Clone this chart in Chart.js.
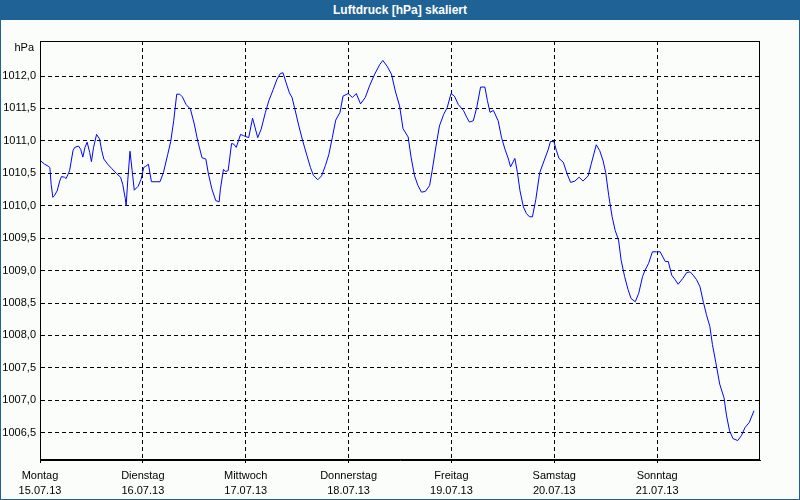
<!DOCTYPE html>
<html>
<head>
<meta charset="utf-8">
<script src="https://cdn.jsdelivr.net/npm/chart.js@4/dist/chart.umd.min.js"></script>
<style>
  body { margin: 0; }
  #frame {
    position: relative;
    width: 800px;
    height: 500px;
    box-sizing: border-box;
    border: 1px solid #1f6295;
    background: #fbfdfb;
  }
  #titlebar {
    position: absolute;
    left: 0; top: 0;
    width: 800px; height: 20px;
    margin-left: -1px; margin-top: -1px;
    background: #1f6295;
    color: #ffffff;
    font: bold 12px "Liberation Sans", sans-serif;
    line-height: 21px;
    text-align: center;
  }
  #myChart { position: absolute; left: -1px; top: 19px; }
</style>
</head>
<body>
<div id="frame">
  <div id="titlebar">Luftdruck [hPa] skaliert</div>
  <canvas id="myChart" width="800" height="480"></canvas>
</div>
<script>
// hours since Monday 15.07.13 00:00
const hours = [
  0, 1.1, 1.9, 2.3, 2.6, 3.0, 3.4, 4.0, 4.6, 5.0, 5.7, 6.1, 6.9, 7.7, 8.1, 9.0, 9.5, 10.0,
  10.5, 11.0, 11.6, 12.0, 12.5, 13.2, 13.9, 14.4, 14.9, 15.8, 16.8, 17.8, 18.8, 19.3, 19.9,
  20.1, 20.5, 21.0, 21.5, 22.0, 22.9, 23.6, 24.2, 24.7, 25.3, 26.0, 28.0, 28.8, 29.8, 30.5,
  31.2, 31.9, 32.6, 33.2, 34.1, 35.1, 36.0, 36.8, 37.8, 38.7, 39.3, 40.1, 41.0, 41.8, 42.1,
  42.8, 43.3, 43.9, 44.7, 45.2, 45.8, 46.8, 47.5, 48.7, 49.6, 50.8, 51.6, 52.6, 53.4, 54.4,
  55.3, 56.1, 56.7, 57.4, 58.2, 58.8, 59.4, 60.4, 61.3, 62.3, 63.1, 63.8, 64.8, 65.7, 66.6,
  67.4, 68.2, 69.0, 70.0, 70.7, 71.9, 72.9, 73.8, 74.8, 75.9, 76.9, 78.1, 79.3, 80.0, 81.0,
  82.0, 82.9, 83.9, 84.7, 85.9, 86.6, 87.4, 88.2, 89.0, 89.9, 90.9, 91.5, 92.4, 93.2, 94.2,
  95.0, 95.9, 96.7, 97.6, 98.8, 99.6, 100.2, 101.1, 101.9, 102.8, 103.8, 104.4, 105.0, 105.8,
  106.9, 107.7, 108.5, 109.3, 109.8, 110.8, 111.4, 112.0, 112.8, 113.5, 114.2, 114.9, 115.7,
  116.6, 117.6, 118.6, 119.1, 119.9, 120.5, 121.1, 122.1, 123.0, 123.8, 124.8, 125.8, 126.7,
  127.9, 128.6, 129.8, 130.6, 131.4, 132.0, 132.7, 133.5, 134.2, 135.0, 135.6, 136.4, 137.2,
  137.9, 138.9, 139.7, 140.6, 141.2, 142.0, 142.9, 143.9, 144.7, 145.9, 146.6, 147.4, 148.2,
  148.9, 150.0, 150.9, 151.7, 152.4, 153.2, 154.0, 154.8, 155.5, 156.3, 156.9, 157.7, 158.6,
  159.6, 160.2, 160.9, 161.7, 162.8, 163.7, 164.5, 165.5, 166.6
];

const pressure = [
  1010.70, 1010.64, 1010.61, 1010.59, 1010.33, 1010.13, 1010.16, 1010.23, 1010.38, 1010.45,
  1010.44, 1010.42, 1010.54, 1010.85, 1010.90, 1010.92, 1010.87, 1010.75, 1010.90, 1010.98,
  1010.82, 1010.68, 1010.90, 1011.10, 1011.03, 1010.85, 1010.72, 1010.64, 1010.57, 1010.50,
  1010.44, 1010.33, 1010.11, 1010.00, 1010.41, 1010.84, 1010.54, 1010.24, 1010.30, 1010.41,
  1010.59, 1010.61, 1010.64, 1010.37, 1010.37, 1010.51, 1010.79, 1010.99, 1011.31, 1011.72,
  1011.72, 1011.68, 1011.56, 1011.49, 1011.26, 1011.00, 1010.74, 1010.72, 1010.49, 1010.26,
  1010.08, 1010.06, 1010.26, 1010.56, 1010.53, 1010.54, 1010.96, 1010.95, 1010.90, 1011.10,
  1011.08, 1011.05, 1011.35, 1011.05, 1011.18, 1011.44, 1011.62, 1011.79, 1011.95, 1012.04,
  1012.05, 1011.90, 1011.74, 1011.67, 1011.51, 1011.23, 1011.00, 1010.77, 1010.59, 1010.47,
  1010.40, 1010.46, 1010.62, 1010.79, 1011.05, 1011.32, 1011.44, 1011.69, 1011.73, 1011.67,
  1011.73, 1011.57, 1011.67, 1011.85, 1012.03, 1012.18, 1012.24, 1012.15, 1012.03, 1011.77,
  1011.54, 1011.19, 1011.06, 1010.74, 1010.46, 1010.31, 1010.21, 1010.22, 1010.31, 1010.54,
  1010.92, 1011.23, 1011.41, 1011.51, 1011.73, 1011.69, 1011.56, 1011.47, 1011.36, 1011.29,
  1011.31, 1011.51, 1011.83, 1011.83, 1011.62, 1011.44, 1011.47, 1011.31, 1011.05, 1010.87,
  1010.72, 1010.60, 1010.73, 1010.51, 1010.23, 1009.98, 1009.88, 1009.83, 1009.83, 1010.10,
  1010.51, 1010.69, 1010.87, 1010.99, 1010.99, 1010.85, 1010.73, 1010.67, 1010.49, 1010.36,
  1010.38, 1010.44, 1010.38, 1010.46, 1010.64, 1010.94, 1010.85, 1010.69, 1010.51, 1010.16,
  1009.83, 1009.62, 1009.47, 1009.16, 1008.91, 1008.71, 1008.57, 1008.52, 1008.65, 1008.91,
  1009.01, 1009.11, 1009.29, 1009.29, 1009.29, 1009.14, 1009.14, 1008.93, 1008.86, 1008.79,
  1008.88, 1008.97, 1008.98, 1008.93, 1008.86, 1008.75, 1008.51, 1008.32, 1008.14, 1007.86,
  1007.58, 1007.25, 1007.04, 1006.76, 1006.53, 1006.41, 1006.38, 1006.46, 1006.58, 1006.66,
  1006.84
];

const dayNames = ["Montag", "Dienstag", "Mittwoch", "Donnerstag", "Freitag", "Samstag", "Sonntag"];
const dayDates = ["15.07.13", "16.07.13", "17.07.13", "18.07.13", "19.07.13", "20.07.13", "21.07.13"];
const dayHours = [0, 24, 48, 72, 96, 120, 144];

const yTicks = [1006.5, 1007.0, 1007.5, 1008.0, 1008.5, 1009.0, 1009.5, 1010.0, 1010.5, 1011.0, 1011.5, 1012.0];
const yMin = 1006.08;
const yMax = 1012.54;
const unitLabel = "hPa";

const axisFont = { family: "Liberation Sans", size: 11, lineHeight: 15 / 11 };

// solid box around the plot and the unit label at the top of the value axis
const framePlugin = {
  id: "frame",
  afterDraw(chart) {
    const ctx = chart.ctx;
    const a = chart.chartArea;
    ctx.save();
    ctx.setLineDash([]);
    ctx.strokeStyle = "#000000";
    ctx.lineWidth = 1;
    ctx.strokeRect(Math.round(a.left) + 0.5, Math.round(a.top) + 0.5,
      Math.round(a.right - a.left) - 1, Math.round(a.bottom - a.top) - 1);
    ctx.fillStyle = "#000000";
    ctx.font = "11px 'Liberation Sans'";
    ctx.textAlign = "right";
    ctx.textBaseline = "middle";
    ctx.fillText(unitLabel, a.left - 6, a.top + 7);
    ctx.restore();
  }
};

function initChart(chart) {
  const points = hours.map((h, i) => ({ x: h, y: pressure[i] }));

  const data = {
    datasets: [
      {
        label: "Luftdruck",
        borderColor: "#0000ff",
        borderWidth: 1,
        pointRadius: 0,
        tension: 0,
        data: points,
      },
    ],
  };

  const config = {
    type: "line",
    data: data,
    plugins: [framePlugin],
    options: {
      responsive: false,
      animation: false,
      layout: { padding: { top: 21, right: 40, left: 0, bottom: 0 } },
      plugins: {
        legend: { display: false },
        tooltip: { enabled: false },
      },
      scales: {
        x: {
          type: "linear",
          min: 0,
          max: 168,
          afterFit: (s) => { s.height = 40; },
          afterBuildTicks: (s) => { s.ticks = dayHours.map((v) => ({ value: v })); },
          // border.dash is what dashes the grid lines in v4
          border: { color: "#000000", width: 1, dash: [4, 3] },
          grid: {
            color: "#000000",
            lineWidth: 1,
            tickLength: 3,
            tickColor: "#000000",
            tickBorderDash: [],
          },
          ticks: {
            autoSkip: false,
            maxRotation: 0,
            padding: 5,
            color: "#000000",
            font: axisFont,
            callback: (v) => {
              const i = dayHours.indexOf(v);
              return [dayNames[i], dayDates[i]];
            },
          },
        },
        y: {
          min: yMin,
          max: yMax,
          afterFit: (s) => { s.width = 40; },
          afterBuildTicks: (s) => { s.ticks = yTicks.map((v) => ({ value: v })); },
          border: { color: "#000000", width: 1, dash: [4, 3] },
          grid: {
            color: "#000000",
            lineWidth: 1,
            drawTicks: false,
          },
          ticks: {
            padding: 4,
            color: "#000000",
            font: axisFont,
            callback: (v) => v.toFixed(1).replace(".", ","),
          },
        },
      },
    },
  };

  return new Chart(chart, config);
}

document.addEventListener("DOMContentLoaded", () => initChart(document.querySelector("#myChart")));
</script>
</body>
</html>
